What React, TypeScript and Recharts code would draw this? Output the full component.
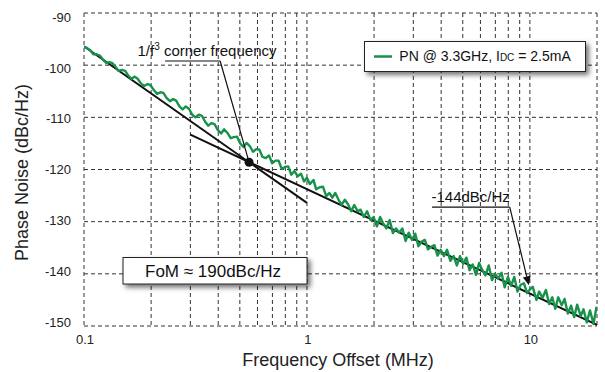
import React from "react";
import {
  LineChart,
  Line,
  XAxis,
  YAxis,
  CartesianGrid,
  ReferenceLine,
  ReferenceDot,
} from "recharts";

// ---------- data ----------
const freqMHz = [
  0.100, 0.103, 0.107, 0.110, 0.114, 0.118, 0.122, 0.126, 0.130, 0.134,
  0.139, 0.143, 0.148, 0.153, 0.158, 0.163, 0.169, 0.174, 0.180, 0.186,
  0.193, 0.199, 0.206, 0.213, 0.220, 0.227, 0.235, 0.243, 0.251, 0.259,
  0.268, 0.277, 0.286, 0.296, 0.306, 0.316, 0.327, 0.338, 0.349, 0.361,
  0.373, 0.385, 0.398, 0.412, 0.425, 0.440, 0.455, 0.470, 0.486, 0.502,
  0.519, 0.536, 0.554, 0.573, 0.592, 0.612, 0.632, 0.654, 0.676, 0.698,
  0.722, 0.746, 0.771, 0.797, 0.824, 0.851, 0.880, 0.909, 0.940, 0.971,
  1.00, 1.03, 1.07, 1.10, 1.14, 1.18, 1.22, 1.26, 1.30, 1.34,
  1.39, 1.43, 1.48, 1.53, 1.58, 1.63, 1.69, 1.74, 1.80, 1.86,
  1.93, 1.99, 2.06, 2.13, 2.20, 2.27, 2.35, 2.43, 2.51, 2.59,
  2.68, 2.77, 2.86, 2.96, 3.06, 3.16, 3.27, 3.38, 3.49, 3.61,
  3.73, 3.85, 3.98, 4.12, 4.25, 4.40, 4.55, 4.70, 4.86, 5.02,
  5.19, 5.36, 5.54, 5.73, 5.92, 6.12, 6.32, 6.54, 6.76, 6.98,
  7.22, 7.46, 7.71, 7.97, 8.24, 8.51, 8.80, 9.09, 9.40, 9.71,
  10.0, 10.3, 10.7, 11.0, 11.4, 11.8, 12.2, 12.6, 13.0, 13.4,
  13.9, 14.3, 14.8, 15.3, 15.8, 16.3, 16.9, 17.4, 18.0, 18.6,
  19.3, 19.9,
];

const phaseNoise = [
  -96.5, -96.7, -97.2, -97.9, -97.9, -98.2, -99.0, -99.6, -99.4, -99.6,
  -100.4, -101.1, -100.9, -101.1, -102.0, -102.6, -102.2, -102.6, -103.5, -104.0,
  -103.6, -103.9, -104.8, -105.5, -105.2, -105.3, -106.3, -106.9, -106.5, -106.8,
  -107.9, -108.5, -107.9, -108.4, -109.5, -110.0, -109.5, -109.7, -110.8, -111.6,
  -111.1, -111.3, -112.4, -113.1, -112.3, -113.0, -114.0, -113.8, -113.7, -115.0,
  -115.7, -114.9, -115.5, -116.6, -116.1, -116.2, -117.6, -117.8, -117.3, -118.8,
  -118.3, -118.3, -119.9, -119.5, -119.4, -121.0, -120.3, -121.3, -120.8, -122.3,
  -121.6, -122.8, -122.0, -123.8, -123.4, -123.3, -125.1, -124.5, -125.4, -124.5,
  -125.9, -126.8, -125.8, -126.7, -128.0, -126.8, -128.0, -127.7, -129.1, -128.0,
  -129.7, -129.1, -130.9, -129.1, -130.4, -131.3, -129.7, -132.2, -131.3, -132.1,
  -131.3, -133.7, -132.1, -133.5, -132.3, -134.7, -133.8, -133.5, -135.3, -134.8,
  -134.5, -136.5, -135.4, -136.6, -135.4, -137.5, -136.6, -138.4, -136.6, -138.1,
  -136.9, -139.3, -138.2, -140.2, -137.9, -139.3, -140.3, -138.4, -141.2, -140.0,
  -140.9, -139.8, -142.6, -140.6, -142.3, -140.6, -143.4, -142.1, -141.8, -143.7,
  -143.0, -142.5, -145.0, -143.4, -144.6, -143.1, -145.8, -144.5, -146.7, -144.5,
  -146.0, -144.8, -147.6, -146.1, -148.3, -145.9, -148.1, -146.8, -149.3, -147.0,
  -149.6, -146.3,
];

// fitted asymptotes (1/f^3 and 1/f^2 regions)
const flickerLineF = [0.1, 1.0];
const flickerLineV = [-96.4, -126.4];
const thermalLineF = [0.3, 20];
const thermalLineV = [-113.3, -149.8];

// 1/f^3 corner
const cornerF = 0.55;
const cornerV = -118.6;

// annotation anchors (data coordinates)
const cornerNoteF = [0.231, 0.408];
const cornerNoteV = -99.2;
const noiseNoteF = [3.64, 8.12];
const noiseNoteV = -127.2;
const noiseArrowTip = { f: 9.9, v: -142.2 };

// axes
const xTicks = [0.1, 0.2, 0.3, 0.4, 0.5, 0.6, 0.7, 0.8, 0.9, 1, 2, 3, 4, 5, 6, 7, 8, 9, 10, 20];
const xTickLabels = [0.1, 1, 10];
const yTicks = [-150, -140, -130, -120, -110, -100, -90];

const pnData = freqMHz.map((f, i) => ({ f, pn: phaseNoise[i] }));
const flickerData = flickerLineF.map((f, i) => ({ f, fit: flickerLineV[i] }));
const thermalData = thermalLineF.map((f, i) => ({ f, fit: thermalLineV[i] }));

const GREEN = "#17924a";
const FONT = "'Liberation Sans', Arial, Helvetica, sans-serif";

const XTick = (props: any) => {
  const { x, y, payload } = props;
  if (!xTickLabels.includes(payload.value)) return <g />;
  return (
    <text x={x + 1} y={y + 17.5} textAnchor="middle" fontSize={13} fill="#222" fontFamily={FONT}>
      {payload.value}
    </text>
  );
};

const YTick = (props: any) => {
  const { x, y, payload } = props;
  const shift = 4 + (payload.value + 90) * 0.1333;
  return (
    <text x={x - 13} y={y + 4.7 + shift} textAnchor="end" fontSize={13} fill="#222" fontFamily={FONT}>
      {payload.value}
    </text>
  );
};

const ArrowLine = (props: any) => {
  const { x1, y1, x2, y2 } = props;
  const dx = x2 - x1;
  const dy = y2 - y1;
  const len = Math.sqrt(dx * dx + dy * dy) || 1;
  const ux = dx / len;
  const uy = dy / len;
  const hl = 9;
  const hw = 4;
  const bx = x2 - ux * hl;
  const by = y2 - uy * hl;
  const p = `${x2},${y2} ${bx - uy * hw},${by + ux * hw} ${bx + uy * hw},${by - ux * hw}`;
  return (
    <g>
      <line x1={x1} y1={y1} x2={bx} y2={by} stroke="#111" strokeWidth={1.2} />
      <polygon points={p} fill="#111" />
    </g>
  );
};

export default function App() {
  return (
    <div style={{ position: "absolute", left: 0, top: 0, width: 605, height: 372, background: "#fff" }}>
      <LineChart
        width={605}
        height={372}
        data={pnData}
        margin={{ top: 13, right: 8, bottom: 0, left: 0 }}
      >
        <CartesianGrid stroke="#333" strokeDasharray="4 3" strokeWidth={1} />
        <XAxis
          dataKey="f"
          type="number"
          scale="log"
          domain={[0.1, 20]}
          allowDataOverflow
          ticks={xTicks}
          interval={0}
          axisLine={false}
          tickLine={false}
          tickSize={0}
          tickMargin={0}
          height={46}
          tick={<XTick />}
        />
        <YAxis
          type="number"
          domain={[-150, -90]}
          allowDataOverflow
          ticks={yTicks}
          interval={0}
          axisLine={false}
          tickLine={false}
          tickSize={0}
          tickMargin={0}
          width={84}
          tick={<YTick />}
        />
        <Line
          data={flickerData}
          dataKey="fit"
          type="linear"
          stroke="#111"
          strokeWidth={2}
          dot={false}
          isAnimationActive={false}
        />
        <Line
          data={thermalData}
          dataKey="fit"
          type="linear"
          stroke="#111"
          strokeWidth={2}
          dot={false}
          isAnimationActive={false}
        />
        <Line
          dataKey="pn"
          type="linear"
          stroke={GREEN}
          strokeWidth={2.4}
          strokeLinejoin="round"
          dot={false}
          isAnimationActive={false}
        />
        <ReferenceLine
          segment={[
            { x: cornerNoteF[0], y: cornerNoteV },
            { x: cornerNoteF[1], y: cornerNoteV },
          ]}
          stroke="#111"
          strokeWidth={1.2}
        />
        <ReferenceLine
          segment={[
            { x: cornerNoteF[1], y: cornerNoteV },
            { x: cornerF, y: cornerV },
          ]}
          stroke="#111"
          strokeWidth={1.2}
        />
        <ReferenceLine
          segment={[
            { x: noiseNoteF[0], y: noiseNoteV },
            { x: noiseNoteF[1], y: noiseNoteV },
          ]}
          stroke="#111"
          strokeWidth={1.2}
        />
        <ReferenceLine
          segment={[
            { x: noiseNoteF[1], y: noiseNoteV },
            { x: noiseArrowTip.f, y: noiseArrowTip.v },
          ]}
          shape={ArrowLine}
        />
        <ReferenceDot x={cornerF} y={cornerV} r={4.5} fill="#111" stroke="#111" strokeWidth={0} />
      </LineChart>

      <svg
        width={605}
        height={372}
        style={{ position: "absolute", left: 0, top: 0, pointerEvents: "none" }}
        fontFamily={FONT}
      >
        <defs>
          <filter id="shadow" x="-10%" y="-40%" width="130%" height="200%">
            <feDropShadow dx="3" dy="3" stdDeviation="2.5" floodColor="#000" floodOpacity="0.55" />
          </filter>
        </defs>

        {/* axis titles */}
        <text
          transform="translate(28.3,172.5) rotate(-90)"
          textAnchor="middle"
          fontSize={18}
          fill="#222"
        >
          Phase Noise (dBc/Hz)
        </text>
        <text x={338} y={366} textAnchor="middle" fontSize={18} fill="#222">
          Frequency Offset (MHz)
        </text>

        {/* annotations */}
        <text x={137.5} y={55.5} fontSize={15} fill="#111">
          1/f
          <tspan dy={-6} fontSize={10}>3</tspan>
          <tspan dy={6}> corner frequency</tspan>
        </text>
        <text x={431.5} y={201.5} fontSize={15} fill="#111">
          -144dBc/Hz
        </text>

        {/* legend */}
        <rect x={364.5} y={41.5} width={221} height={30} fill="#fff" stroke="#222" strokeWidth={1} filter="url(#shadow)" />
        <line x1={374} y1={56.5} x2={392} y2={56.5} stroke={GREEN} strokeWidth={2.5} />
        <text x={399.3} y={61.3} fontSize={14} fill="#111">
          PN @ 3.3GHz, I<tspan fontSize={10}>DC</tspan> = 2.5mA
        </text>

        {/* FoM box */}
        <rect x={123} y={257.5} width={184} height={26.5} fill="#fff" stroke="#222" strokeWidth={1} filter="url(#shadow)" />
        <text x={145} y={277} fontSize={17} fill="#111">
          FoM ≈ 190dBc/Hz
        </text>
      </svg>
    </div>
  );
}
